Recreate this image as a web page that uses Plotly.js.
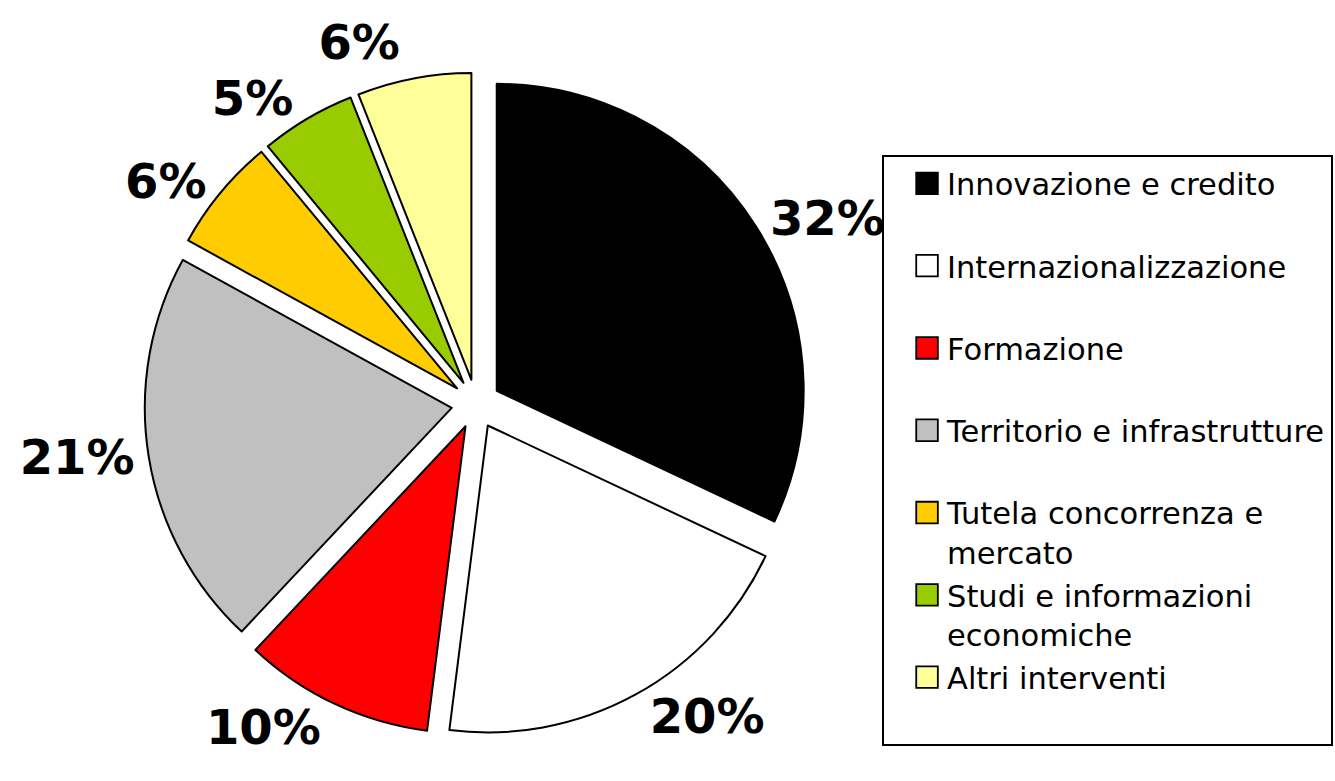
<!DOCTYPE html>
<html>
<head>
<meta charset="utf-8">
<script src="https://cdn.plot.ly/plotly-3.0.1.min.js"></script>
<style>html,body{margin:0;padding:0;background:#fff;}#chart{width:1335px;height:781px;}</style>
</head>
<body>
<div id="chart"></div>
<script>
const categories = [
  "Innovazione e credito",
  "Internazionalizzazione",
  "Formazione",
  "Territorio e infrastrutture",
  "Tutela concorrenza e<br>mercato",
  "Studi e informazioni<br>economiche",
  "Altri interventi"
];
const shares = [32, 20, 10, 21, 6, 5, 6];
const colors = ["#000000", "#FFFFFF", "#FF0000", "#C0C0C0", "#FFCC00", "#99CC00", "#FFFF99"];

// single-line labels get a blank second line so each legend entry has equal height
const legendLabels = categories.map(c => c.includes("<br>") ? c : c + "<br>\u00a0");

const trace = {
  type: "pie",
  labels: legendLabels,
  values: shares,
  sort: false,
  direction: "clockwise",
  rotation: 0,
  pull: 0.08,
  marker: {colors: colors, line: {color: "#000000", width: 2}},
  textposition: "outside",
  texttemplate: "%{percent:.0%}",
  textfont: {family: "DejaVu Sans", size: 48, color: "#000000", weight: "bold"},
  domain: {x: [0.1082, 0.6049], y: [0.0583, 0.9072]},
  hoverinfo: "label+percent"
};

const layout = {
  width: 1335,
  height: 781,
  margin: {l: 0, r: 0, t: 0, b: 0},
  paper_bgcolor: "#ffffff",
  showlegend: true,
  legend: {
    x: 0.6607, xanchor: "left",
    y: 0.8015, yanchor: "top",
    bordercolor: "#000000",
    borderwidth: 2,
    bgcolor: "#ffffff",
    valign: "top",
    itemwidth: 53,
    font: {family: "DejaVu Sans", size: 30.5, color: "#000000"}
  }
};

Plotly.newPlot("chart", [trace], layout, {displayModeBar: false, staticPlot: true}).then(gd => {
  // no leader lines in the reference
  gd.querySelectorAll("path.textline").forEach(p => { p.style.display = "none"; });
  // larger legend swatches, placed next to their text
  gd.querySelectorAll(".legendpoints path.legendpie").forEach(p => {
    p.setAttribute("transform", "translate(43,0) scale(1.8)");
    p.style.strokeWidth = "1px";
  });
});
</script>
</body>
</html>
